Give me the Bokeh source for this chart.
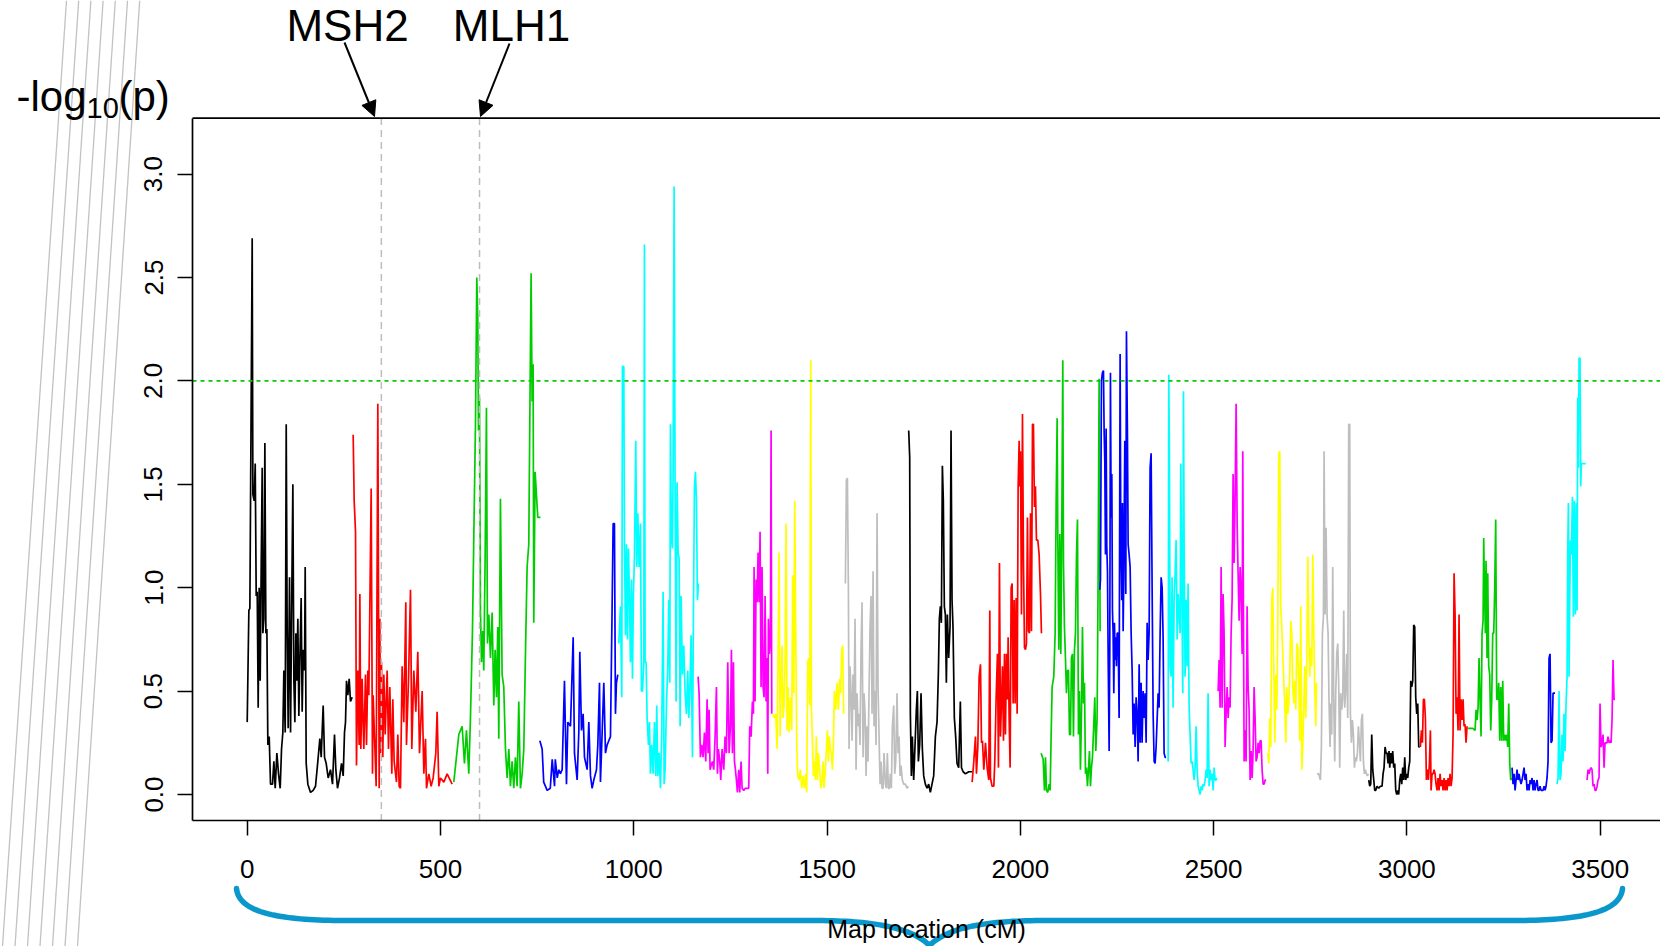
import numpy as np
from bokeh.plotting import figure
from bokeh.models import Range1d, FixedTicker, PrintfTickFormatter, Label, Arrow, NormalHead
from bokeh.embed import file_html
from bokeh.resources import INLINE

# ---------------- data: (map position cM, -log10 p) per chromosome ----------------
chr1 = [(0, 0.35), (4.3, 0.89), (6.9, 0.90), (12.9, 2.69), (14.7, 1.45), (18.1, 1.42), (20.7, 1.60), (23.3, 0.96),
        (25.9, 0.98), (28.4, 0.42), (31.0, 1.00), (33.6, 0.55), (36.2, 1.10), (38.8, 1.58), (40.5, 0.78), (43.1, 0.85),
        (45.7, 1.70), (48.3, 0.78), (50.9, 0.80), (53.4, 0.24), (56.9, 0.28), (60.3, 0.05), (65.5, 0.05), (69.0, 0.16),
        (72.4, 0.03), (76.7, 0.20), (81.0, 0.10), (85.3, 0.03), (88.8, 0.22), (92.2, 0.30), (94.8, 0.60), (98.3, 0.30),
        (100.9, 1.79), (103.4, 0.80), (106.0, 0.32), (109.5, 1.05), (112.1, 0.30), (115.5, 1.00), (118.1, 1.50),
        (120.7, 0.55), (123.3, 0.35), (125.9, 0.78), (128.4, 0.55), (131.0, 0.85), (133.6, 0.38), (136.2, 0.65),
        (139.6, 0.95), (142.2, 0.40), (144.8, 0.70), (148.3, 0.60), (150.0, 1.10), (152.6, 0.15), (156.9, 0.05),
        (163.8, 0.01), (170.7, 0.02), (176.7, 0.04), (182.7, 0.16), (187.9, 0.27), (191.4, 0.18), (196.5, 0.43),
        (200.0, 0.18), (204.3, 0.15), (209.5, 0.08), (215.5, 0.12), (220.7, 0.05), (225.8, 0.29), (229.3, 0.12),
        (233.6, 0.03), (238.8, 0.08), (244.0, 0.15), (248.3, 0.09), (251.7, 0.30), (254.3, 0.35), (256.9, 0.55),
        (260.3, 0.48), (263.8, 0.56), (267.2, 0.45), (271.5, 0.47)]
chr2 = [(274.1, 1.74), (276.7, 1.42), (280.2, 1.27), (282.7, 0.14), (286.2, 0.60), (289.6, 0.24), (291.4, 0.97),
        (293.9, 0.22), (297.4, 0.56), (300.0, 0.33), (301.7, 0.22), (306.0, 0.58), (308.6, 0.24), (312.0, 0.60),
        (314.6, 0.48), (320.7, 1.48), (324.1, 0.10), (325.8, 0.48), (333.6, 0.04), (337.9, 1.89), (341.4, 0.03),
        (343.1, 0.85), (344.8, 0.20), (347.4, 0.64), (350.8, 0.18), (353.4, 0.58), (356.9, 0.29), (362.0, 0.60),
        (365.5, 0.22), (368.9, 0.52), (374.1, 0.10), (376.7, 0.46), (380.1, 0.16), (386.2, 0.06), (389.6, 0.29),
        (393.1, 0.04), (396.5, 0.03), (400.8, 0.62), (405.1, 0.35), (410.3, 0.93), (412.0, 0.24), (417.2, 0.55),
        (422.4, 0.99), (425.8, 0.22), (431.0, 0.60), (436.2, 0.40), (441.3, 0.69), (445.7, 0.20), (452.6, 0.50),
        (456.9, 0.10), (461.2, 0.27), (463.8, 0.03), (469.8, 0.10), (475.8, 0.04), (481.0, 0.08), (487.9, 0.20),
        (491.3, 0.40), (495.7, 0.04), (500.0, 0.08), (508.6, 0.06), (517.2, 0.10), (530.1, 0.05)]
chr3 = [(534.4, 0.06), (547.4, 0.29), (556.0, 0.33), (562.0, 0.15), (567.2, 0.31), (573.2, 0.10), (577.5, 0.37),
        (582.7, 0.79), (586.2, 1.25), (590.5, 1.79), (593.9, 2.50), (596.5, 2.30), (598.2, 1.76), (600.8, 1.92),
        (603.4, 0.89), (606.0, 0.64), (609.4, 0.79), (612.0, 0.60), (615.5, 1.15), (618.9, 1.87), (621.5, 0.73),
        (625.0, 0.87), (629.3, 0.66), (633.6, 0.88), (637.9, 0.43), (641.3, 0.70), (644.8, 0.47), (648.2, 0.81),
        (650.8, 0.27), (655.1, 1.43), (659.4, 0.58), (663.7, 0.52), (668.1, 0.22), (672.4, 0.08), (676.7, 0.22),
        (681.0, 0.04), (685.3, 0.16), (689.6, 0.03), (693.9, 0.18), (698.2, 0.04), (702.5, 0.45), (706.8, 0.03),
        (711.2, 0.10), (715.5, 0.22), (719.8, 0.68), (724.1, 1.10), (728.4, 1.21), (731.0, 1.80), (734.4, 2.52),
        (737.0, 1.90), (739.6, 2.08), (741.3, 0.83), (744.8, 1.56), (748.2, 1.45), (751.7, 1.34), (758.6, 1.34)]
chr4 = [(757, 0.26), (763, 0.22), (767, 0.06), (776, 0.02), (784, 0.03), (789, 0.17), (795, 0.04), (797, 0.17),
        (802, 0.08), (806, 0.12), (810, 0.10), (814.7, 0.12), (820.7, 0.55), (825.9, 0.05), (829.4, 0.35),
        (836.3, 0.33), (843.2, 0.76), (846.6, 0.20), (853.5, 0.07), (857.8, 0.30), (860.4, 0.69), (864.7, 0.31),
        (869.0, 0.39), (872.5, 0.18), (879.4, 0.12), (883.7, 0.35), (888.0, 0.09), (892.3, 0.03), (896.6, 0.07),
        (903.5, 0.12), (907.0, 0.24), (911.3, 0.54), (913.8, 0.06), (918.2, 0.30), (922.5, 0.54), (926.8, 0.20),
        (931.1, 0.24), (935.4, 0.26), (939.7, 0.28), (944.0, 0.91), (946.6, 1.31), (950.0, 1.31), (952.6, 0.39),
        (955.2, 0.54), (958.7, 0.58)]
chr5 = [(961.3, 0.73), (965.6, 0.91), (969.0, 0.47), (970.7, 2.07), (974.2, 2.07), (975.9, 1.23), (978.5, 0.77),
        (981.1, 1.21), (983.7, 0.75), (986.2, 1.19), (988.8, 0.96), (991.4, 0.64), (994.0, 1.04), (996.6, 0.56),
        (999.2, 0.98), (1001.8, 1.15), (1005.2, 1.71), (1007.8, 1.10), (1010.4, 1.36), (1013.8, 1.10), (1017.3, 1.31),
        (1019.9, 0.50), (1022.5, 0.50), (1025.9, 0.64), (1027.6, 2.66), (1029.3, 0.64), (1031.9, 0.64), (1034.5, 0.37),
        (1038.0, 0.24), (1040.6, 0.35), (1043.1, 0.10), (1046.6, 0.24), (1050.0, 0.10), (1053.5, 0.35), (1057.0, 0.09),
        (1059.5, 0.43), (1062.1, 0.09), (1065.6, 0.20), (1069.0, 0.03), (1072.4, 0.31), (1075.9, 0.98), (1078.5, 0.05),
        (1081.1, 0.12), (1084.5, 0.43), (1088.0, 0.62), (1090.6, 0.94), (1093.1, 0.54), (1094.9, 1.79), (1097.4, 1.23),
        (1100.0, 1.19), (1101.8, 1.56), (1104.3, 2.94), (1106.9, 1.50), (1109.5, 0.45), (1112.1, 1.51), (1114.7, 1.17),
        (1117.3, 1.14), (1119.9, 0.33), (1122.4, 0.96), (1125.9, 0.58), (1129.3, 0.72), (1132.8, 0.49), (1136.2, 0.39),
        (1139.7, 0.60), (1142.3, 0.37), (1144.9, 0.49), (1148.3, 0.77), (1151.8, 0.18), (1154.3, 0.87), (1156.9, 1.48),
        (1159.5, 1.56), (1162.1, 1.42), (1164.7, 0.94), (1167.3, 1.02)]
chr6 = [(1166.4, 0.57), (1169.0, 0.49), (1172.4, 0.18), (1175.9, 0.24), (1179.3, 0.18), (1182.8, 0.30), (1186.2, 0.16),
        (1189.7, 0.46), (1192.3, 0.20), (1194.9, 0.41), (1197.4, 0.12), (1200.0, 0.14), (1203.5, 0.16), (1206.9, 0.12),
        (1210.4, 0.28), (1213.8, 0.52), (1216.4, 0.10), (1219.0, 0.22), (1222.4, 0.16), (1225.0, 0.07), (1228.5, 0.22),
        (1232.8, 0.12), (1236.2, 0.28), (1239.7, 0.20), (1243.1, 0.64), (1246.6, 0.20), (1250.0, 0.33), (1252.6, 0.70),
        (1255.2, 0.20), (1257.8, 0.64), (1260.4, 0.16), (1263.0, 0.12), (1265.5, 0.07), (1268.1, 0.01), (1271.6, 0.12),
        (1274.2, 0.01), (1277.6, 0.16), (1280.2, 0.03), (1284.5, 0.02), (1288.8, 0.03), (1293.1, 0.03), (1297.4, 0.03),
        (1300.0, 0.33), (1303.5, 0.28), (1306.9, 0.45), (1309.5, 0.39), (1311.2, 1.10), (1313.8, 0.45), (1316.4, 1.04),
        (1319.0, 0.93), (1321.6, 1.17), (1324.2, 0.93), (1326.7, 1.27), (1329.3, 0.52), (1331.9, 1.10), (1334.5, 0.52),
        (1337.1, 0.47), (1339.7, 0.96), (1342.3, 0.45), (1344.8, 0.66), (1346.6, 0.10), (1348.3, 0.85), (1350.9, 0.68),
        (1353.5, 0.75), (1355.2, 1.76), (1356.9, 0.39)]
chr7 = [(1360.4, 0.39), (1363.8, 0.37), (1367.3, 0.39), (1370.7, 0.22), (1373.3, 0.68), (1375.9, 1.17), (1378.5, 0.28),
        (1381.0, 0.50), (1383.6, 0.72), (1386.2, 0.37), (1388.8, 0.43), (1391.4, 0.64), (1394.0, 1.31), (1396.6, 0.31),
        (1399.1, 0.52), (1401.7, 0.30), (1405.2, 0.47), (1408.6, 0.31), (1411.2, 1.06), (1413.8, 0.49), (1416.4, 1.42),
        (1419.0, 0.77), (1421.6, 0.24), (1424.1, 0.09), (1427.6, 0.07), (1431.0, 0.12), (1434.5, 0.03), (1438.0, 0.09),
        (1441.4, 0.03), (1444.8, 0.10), (1447.4, 0.01), (1450.0, 0.64), (1452.6, 0.66), (1455.2, 0.43), (1457.8, 2.10),
        (1459.5, 0.43), (1462.1, 0.26), (1464.7, 0.09), (1467.2, 0.16), (1469.8, 0.07), (1472.4, 0.28), (1475.0, 0.07),
        (1477.6, 0.20), (1481.0, 0.12), (1483.6, 0.03), (1487.1, 0.07), (1489.7, 0.16), (1492.2, 0.03), (1495.7, 0.12),
        (1498.3, 0.22), (1500.9, 0.31), (1503.4, 0.16), (1506.0, 0.28), (1508.6, 0.22), (1511.2, 0.20), (1513.8, 0.12),
        (1516.4, 0.24), (1519.0, 0.50), (1522.4, 0.41), (1525.9, 0.54), (1529.3, 0.41), (1532.8, 0.56), (1535.3, 0.49),
        (1537.9, 0.70), (1540.5, 0.72), (1543.1, 0.39)]
chr8 = [(1547.4, 1.02), (1550.0, 1.52), (1552.6, 1.53), (1555.2, 1.00), (1556.9, 0.22), (1559.5, 0.62), (1562.1, 0.49),
        (1564.7, 0.26), (1567.2, 0.58), (1569.8, 0.41), (1572.4, 0.85), (1575.0, 0.12), (1577.6, 0.49), (1580.2, 0.33),
        (1582.8, 0.39), (1585.3, 0.24), (1587.9, 0.70), (1590.5, 0.93), (1593.1, 0.18), (1595.7, 0.49), (1598.3, 0.39),
        (1600.9, 0.09), (1603.4, 0.33), (1606.0, 0.16), (1608.6, 0.49), (1611.2, 0.81), (1613.8, 0.96), (1616.4, 0.39),
        (1619.0, 1.08), (1621.5, 0.33), (1624.1, 0.50), (1626.7, 0.24), (1629.3, 1.36), (1631.9, 0.52), (1634.5, 0.28),
        (1637.1, 0.05), (1639.6, 0.16), (1642.2, 0.03), (1644.8, 0.03), (1647.4, 0.20), (1650.9, 0.05), (1653.4, 0.03),
        (1656.0, 0.20), (1658.6, 0.03), (1661.2, 0.03), (1663.8, 0.10), (1666.4, 0.03), (1669.0, 0.33), (1672.4, 0.43),
        (1675.0, 0.10), (1677.6, 0.16), (1681.0, 0.49), (1683.6, 0.20), (1686.2, 0.28), (1688.8, 0.09), (1691.4, 0.14),
        (1694.8, 0.07), (1698.3, 0.05), (1702.6, 0.05), (1706.9, 0.03), (1710.3, 0.04)]
chr9 = [(1711.2, 1.76), (1713.8, 1.63), (1715.5, 0.39), (1718.1, 0.09), (1720.7, 0.28), (1724.1, 0.07), (1727.6, 0.24),
        (1731.0, 0.41), (1733.6, 0.50), (1736.2, 0.16), (1739.6, 0.24), (1743.1, 0.49), (1746.5, 0.22), (1750.0, 0.09),
        (1754.3, 0.05), (1758.6, 0.03), (1762.9, 0.05), (1767.2, 0.01), (1771.5, 0.05), (1775.8, 0.09), (1780.2, 0.28),
        (1784.5, 0.35), (1787.9, 0.58), (1790.5, 0.85), (1793.1, 0.91), (1795.7, 0.83), (1798.3, 1.59), (1800.8, 1.42),
        (1803.4, 0.91), (1806.0, 0.87), (1808.6, 0.54), (1811.2, 0.87), (1814.6, 0.66), (1818.1, 0.81), (1820.7, 1.76),
        (1823.3, 0.94), (1825.8, 0.81), (1829.3, 0.37), (1832.7, 0.28), (1836.2, 0.15), (1840.5, 0.13), (1844.8, 0.45),
        (1847.7, 0.13), (1852.0, 0.11), (1858.0, 0.10), (1866.7, 0.11), (1875.3, 0.11)]
chr10 = [(1875.3, 0.06), (1879.6, 0.16), (1883.9, 0.28), (1886.5, 0.10), (1890.0, 0.23), (1893.4, 0.57), (1896.9, 0.63),
         (1899.5, 0.25), (1902.0, 0.26), (1905.5, 0.12), (1909.8, 0.25), (1914.1, 0.13), (1918.4, 0.07), (1921.0, 0.89),
         (1922.7, 0.08), (1927.0, 0.04), (1931.4, 0.04), (1933.9, 0.16), (1937.4, 0.47), (1940.8, 0.68), (1943.4, 0.13),
         (1946.0, 1.12), (1948.6, 0.28), (1951.2, 0.44), (1953.8, 0.62), (1956.4, 0.26), (1959.0, 0.68), (1961.5, 0.29),
         (1964.1, 0.68), (1966.7, 0.46), (1968.4, 0.76), (1971.0, 0.37), (1973.6, 0.13), (1976.2, 1.00), (1978.8, 1.02),
         (1981.4, 0.44), (1984.0, 0.94), (1986.5, 0.44), (1989.1, 0.95), (1991.7, 0.39), (1994.3, 1.49), (1996.9, 1.71),
         (1998.6, 1.49), (2000.3, 1.66), (2002.9, 0.87), (2005.5, 1.84), (2008.1, 1.13), (2010.7, 0.71), (2013.3, 0.70),
         (2015.8, 0.73), (2018.4, 1.34), (2021.0, 0.79), (2023.6, 0.78), (2026.2, 1.36), (2028.8, 0.79), (2031.4, 1.79),
         (2033.9, 1.79), (2036.5, 1.39), (2039.1, 1.49), (2041.7, 1.23), (2045.2, 1.23), (2048.6, 1.16), (2052.1, 0.97),
         (2054.6, 0.78)]
chr11 = [(2053.8, 0.20), (2059.0, 0.17), (2062.4, 0.02), (2065.0, 0.18), (2067.6, 0.02), (2071.0, 0.01), (2074.5, 0.05),
         (2077.1, 0.02), (2079.7, 0.29), (2082.2, 0.52), (2086.5, 0.57), (2090.0, 0.78), (2092.6, 1.41), (2095.2, 1.82),
         (2096.9, 1.24), (2099.5, 0.70), (2102.1, 1.26), (2104.7, 0.68), (2107.2, 1.29), (2109.8, 2.10), (2111.6, 1.12),
         (2114.1, 0.81), (2116.7, 0.66), (2119.3, 0.49), (2121.9, 0.60), (2124.5, 0.60), (2127.1, 0.29), (2129.7, 0.29),
         (2132.2, 0.66), (2134.8, 0.68), (2137.4, 0.28), (2140.0, 0.70), (2142.6, 0.78), (2145.2, 1.15), (2147.8, 1.33),
         (2150.3, 0.29), (2152.9, 0.50), (2155.5, 0.12), (2158.1, 0.39), (2160.7, 0.81), (2163.3, 0.44), (2165.9, 0.54),
         (2168.5, 0.10), (2171.0, 0.13), (2173.6, 0.04), (2176.2, 0.12), (2178.8, 0.21), (2181.4, 0.04), (2184.0, 0.13),
         (2186.6, 0.18), (2190.0, 0.34), (2192.6, 0.47), (2195.2, 0.21), (2198.6, 0.37), (2201.2, 1.05), (2203.8, 2.01),
         (2206.4, 0.79)]
chr12 = [(2205.5, 0.99), (2207.3, 1.04), (2209.8, 2.00), (2212.4, 2.04), (2215.0, 2.05), (2216.7, 1.76), (2218.5, 1.61),
         (2220.2, 1.16), (2221.9, 1.77), (2223.6, 1.20), (2225.4, 1.08), (2227.1, 0.68), (2229.7, 0.21), (2231.4, 0.71),
         (2233.1, 2.04), (2234.8, 1.34), (2236.6, 1.55), (2238.3, 0.89), (2240.0, 0.78), (2241.8, 0.49), (2243.5, 0.83),
         (2245.2, 0.65), (2246.9, 0.76), (2248.6, 0.62), (2250.4, 0.78), (2253.0, 0.78), (2255.5, 0.37), (2258.1, 2.13),
         (2259.9, 1.23), (2262.4, 0.94), (2264.2, 1.41), (2265.9, 0.79), (2267.6, 1.05), (2270.2, 1.71), (2272.8, 0.97),
         (2274.5, 2.24), (2277.1, 1.73), (2278.8, 1.21), (2281.4, 1.16), (2284.0, 1.10), (2286.6, 0.78), (2289.2, 0.60),
         (2291.8, 0.29), (2294.3, 0.44), (2296.9, 0.23), (2299.5, 0.47), (2302.1, 0.39), (2304.7, 0.16), (2307.3, 0.63),
         (2309.9, 0.25), (2312.4, 0.54), (2315.0, 0.25), (2317.6, 0.50), (2320.2, 0.37), (2322.8, 0.49), (2325.4, 0.25),
         (2328.0, 0.83), (2330.5, 0.65), (2333.1, 0.78), (2335.7, 1.58), (2338.3, 1.65), (2340.9, 1.00), (2343.5, 0.39),
         (2346.1, 0.16), (2348.6, 0.15), (2351.2, 0.23), (2353.8, 0.36), (2356.4, 0.49), (2359.0, 0.42), (2361.6, 0.78),
         (2364.2, 1.05), (2366.8, 1.00), (2369.3, 0.76), (2371.9, 0.20), (2374.5, 0.18), (2377.1, 0.18)]
chr13 = [(2382.3, 0.16), (2384.0, 2.03), (2385.7, 1.61), (2387.5, 0.62), (2390.0, 0.57), (2392.6, 1.05), (2395.2, 0.42),
         (2397.8, 0.94), (2400.4, 1.07), (2403.0, 1.23), (2405.6, 0.75), (2408.1, 0.97), (2410.7, 0.87), (2413.3, 0.78),
         (2415.0, 1.60), (2417.6, 1.04), (2420.2, 0.49), (2422.0, 1.95), (2423.7, 1.20), (2426.2, 0.57), (2428.8, 0.94),
         (2431.4, 0.62), (2434.0, 1.02), (2436.6, 0.42), (2439.2, 0.29), (2441.8, 0.15), (2444.4, 0.16), (2446.9, 0.12),
         (2449.5, 0.07), (2452.1, 0.13), (2454.7, 0.33), (2457.3, 0.12), (2459.9, 0.04), (2462.5, 0.02), (2465.0, 0.00),
         (2467.6, 0.04), (2470.2, 0.02), (2472.8, 0.05), (2475.4, 0.04), (2478.0, 0.07), (2480.6, 0.12), (2483.2, 0.08),
         (2485.7, 0.49), (2488.3, 0.04), (2490.9, 0.12), (2493.5, 0.07), (2496.1, 0.10), (2498.7, 0.02), (2501.3, 0.13),
         (2503.8, 0.07), (2506.4, 0.07), (2508.2, 0.08)]
chr14 = [(2511.6, 0.50), (2514.2, 0.65), (2516.8, 0.42), (2519.4, 1.10), (2521.9, 0.42), (2524.5, 0.97), (2527.1, 0.78),
         (2529.7, 0.23), (2532.3, 0.39), (2534.9, 0.52), (2537.5, 0.37), (2540.1, 0.47), (2542.6, 0.42), (2545.2, 0.78),
         (2547.8, 0.94), (2550.4, 1.55), (2553.0, 1.12), (2555.6, 1.44), (2558.2, 1.89), (2560.8, 1.31), (2563.3, 1.07),
         (2565.9, 0.84), (2568.5, 1.10), (2571.1, 0.97), (2573.7, 0.68), (2575.4, 1.66), (2577.1, 0.91), (2578.9, 0.16),
         (2581.5, 0.31), (2584.0, 0.16), (2586.6, 0.91), (2589.2, 0.52), (2591.8, 0.41), (2594.4, 0.07), (2597.0, 0.21),
         (2599.6, 0.08), (2602.1, 0.21), (2604.7, 0.52), (2607.3, 0.37), (2609.9, 0.16), (2612.5, 0.18), (2615.1, 0.25),
         (2617.7, 0.20), (2620.3, 0.26), (2622.8, 0.26), (2625.4, 0.12), (2628.0, 0.05), (2630.6, 0.05), (2633.2, 0.07),
         (2635.8, 0.07)]
chr15 = [(2640.1, 0.20), (2642.7, 0.15), (2645.3, 0.37), (2647.8, 0.23), (2650.4, 0.94), (2653.0, 1.00), (2655.6, 0.62),
         (2658.2, 0.25), (2660.8, 0.58), (2663.4, 0.41), (2666.0, 0.81), (2668.5, 1.65), (2671.1, 1.66), (2673.7, 0.91),
         (2676.3, 0.81), (2678.9, 0.68), (2681.5, 0.54), (2684.1, 0.44), (2686.6, 0.25), (2689.2, 0.52), (2691.8, 0.39),
         (2694.4, 0.44), (2697.0, 0.58), (2699.6, 0.84), (2702.2, 0.78), (2704.8, 0.52), (2707.3, 0.44), (2709.9, 0.55),
         (2712.5, 0.41), (2715.1, 0.73), (2717.7, 0.71), (2720.3, 0.54), (2722.9, 0.26), (2725.4, 0.91), (2728.0, 0.12),
         (2730.6, 0.23), (2733.2, 0.42), (2735.8, 0.62), (2738.4, 0.37), (2741.0, 0.63), (2743.6, 1.15), (2746.1, 0.78),
         (2748.7, 0.57), (2751.3, 0.71), (2753.9, 0.62), (2756.5, 1.16), (2759.1, 0.78), (2761.6, 0.52), (2764.2, 0.33),
         (2766.0, 0.54)]
chr16 = [(2767.6, 0.10), (2771.9, 0.10), (2776.2, 0.07), (2778.8, 0.23), (2781.4, 0.78), (2784.0, 0.86), (2785.7, 1.66),
         (2788.3, 0.87), (2790.9, 1.29), (2793.5, 0.86), (2796.1, 0.78), (2798.6, 0.44), (2801.2, 0.23), (2803.0, 0.44),
         (2805.5, 0.29), (2808.1, 1.10), (2810.7, 0.46), (2813.3, 0.16), (2815.9, 0.49), (2818.5, 0.68), (2821.1, 0.73),
         (2823.7, 0.52), (2826.2, 0.13), (2828.8, 0.49), (2831.4, 0.41), (2834.0, 0.46), (2836.6, 0.89), (2839.2, 0.42),
         (2841.8, 0.52), (2844.3, 0.68), (2846.9, 0.37), (2849.5, 1.79), (2852.1, 1.79), (2853.8, 0.39), (2856.4, 0.25),
         (2859.0, 0.36), (2861.6, 0.29), (2864.2, 0.13), (2866.8, 0.18), (2869.3, 0.16), (2871.9, 0.20), (2874.5, 0.33),
         (2877.1, 0.25), (2879.7, 0.16), (2882.3, 0.36), (2884.9, 0.39), (2887.5, 0.16), (2890.0, 0.10), (2892.6, 0.12),
         (2895.2, 0.10), (2897.8, 0.09), (2900.4, 0.10)]
chr17 = [(2901.3, 0.07), (2903.8, 0.04), (2906.4, 0.05), (2909.0, 0.29), (2911.6, 0.12), (2914.2, 0.07), (2916.8, 0.02),
         (2919.4, 0.02), (2922.8, 0.04), (2927.1, 0.03), (2931.4, 0.04), (2935.7, 0.04), (2938.3, 0.10), (2940.9, 0.13),
         (2943.5, 0.23), (2946.1, 0.20), (2948.7, 0.20), (2951.3, 0.15), (2953.8, 0.21), (2955.6, 0.13), (2958.2, 0.20),
         (2960.7, 0.15), (2963.3, 0.21), (2965.9, 0.13), (2968.5, 0.15), (2971.1, 0.02), (2973.7, 0.00), (2976.3, 0.02),
         (2978.8, 0.00), (2981.4, 0.07), (2984.0, 0.10), (2986.6, 0.05), (2989.2, 0.13), (2991.8, 0.07), (2994.4, 0.18),
         (2997.0, 0.07), (2999.5, 0.10), (3002.1, 0.08), (3004.7, 0.13), (3007.3, 0.16), (3009.9, 0.55), (3012.5, 0.52),
         (3015.1, 0.55), (3017.6, 0.82), (3020.2, 0.81), (3022.8, 0.47), (3025.4, 0.39), (3028.0, 0.44), (3030.6, 0.23),
         (3033.2, 0.23)]
chr18 = [(3034.9, 0.23), (3037.5, 0.31), (3040.1, 0.25), (3042.7, 0.46), (3045.2, 0.46), (3047.8, 0.37), (3050.4, 0.07),
         (3053.0, 0.12), (3055.6, 0.07), (3058.2, 0.15), (3060.8, 0.31), (3062.5, 0.02), (3065.1, 0.10), (3067.7, 0.10),
         (3070.2, 0.12), (3072.8, 0.10), (3075.4, 0.05), (3078.0, 0.02), (3080.6, 0.08), (3083.2, 0.02), (3085.8, 0.10),
         (3088.3, 0.04), (3090.9, 0.07), (3093.5, 0.02), (3096.1, 0.08), (3098.7, 0.02), (3101.3, 0.07), (3103.9, 0.02),
         (3106.5, 0.08), (3109.0, 0.04), (3111.6, 0.10), (3114.2, 0.04), (3116.8, 0.08), (3119.4, 0.29), (3122.0, 1.07),
         (3124.6, 0.87), (3127.2, 0.39), (3129.7, 0.47), (3132.3, 0.31), (3134.9, 0.87), (3137.5, 0.31), (3140.1, 0.46),
         (3142.7, 0.36), (3145.3, 0.46), (3147.8, 0.33), (3150.4, 0.34), (3153.0, 0.25), (3155.6, 0.33)]
chr19 = [(3158.2, 0.32), (3164.2, 0.32), (3170.3, 0.32), (3176.3, 0.31), (3178.9, 0.41), (3181.5, 0.36), (3184.1, 0.42),
         (3186.6, 0.66), (3189.2, 0.46), (3191.8, 0.28), (3194.4, 0.78), (3197.0, 0.84), (3198.7, 1.24), (3200.4, 1.02),
         (3203.0, 0.78), (3204.7, 1.13), (3207.3, 0.66), (3209.1, 1.07), (3211.6, 0.62), (3214.2, 0.58), (3216.8, 0.31),
         (3219.4, 0.46), (3222.0, 0.78), (3224.6, 0.78), (3227.2, 1.00), (3229.7, 1.33), (3232.3, 0.46), (3234.9, 0.46),
         (3237.5, 0.54), (3240.1, 0.26), (3242.7, 0.52), (3245.3, 0.26), (3247.9, 0.55), (3250.4, 0.26), (3253.0, 0.29),
         (3255.6, 0.26), (3258.2, 0.29), (3260.8, 0.23), (3263.4, 0.44), (3266.0, 0.15), (3268.5, 0.07), (3271.1, 0.08)]
chr20 = [(3272.0, 0.13), (3274.6, 0.05), (3277.2, 0.10), (3279.8, 0.02), (3282.4, 0.07), (3284.9, 0.12), (3287.5, 0.07),
         (3290.1, 0.10), (3292.7, 0.07), (3295.3, 0.05), (3297.9, 0.07), (3300.5, 0.10), (3303.1, 0.13), (3305.6, 0.07),
         (3308.2, 0.10), (3310.8, 0.02), (3313.4, 0.05), (3316.0, 0.02), (3318.6, 0.07), (3321.1, 0.05), (3323.7, 0.08),
         (3326.3, 0.02), (3328.9, 0.07), (3331.5, 0.02), (3334.1, 0.05), (3336.7, 0.07), (3339.3, 0.02), (3341.8, 0.02),
         (3344.4, 0.04), (3347.0, 0.02), (3349.6, 0.02), (3352.2, 0.02), (3354.8, 0.04), (3357.4, 0.02), (3359.9, 0.04),
         (3362.5, 0.08), (3365.1, 0.16), (3367.7, 0.66), (3370.3, 0.68), (3372.9, 0.25), (3375.5, 0.26), (3378.0, 0.49),
         (3380.6, 0.49), (3383.2, 0.49)]
chr21 = [(3388.4, 0.05), (3391.0, 0.08), (3393.6, 0.50), (3396.1, 0.07), (3398.7, 0.10), (3401.3, 0.29), (3403.9, 0.16),
         (3406.5, 0.39), (3409.1, 0.21), (3411.7, 0.44), (3414.3, 0.57), (3416.0, 1.16), (3417.7, 1.41), (3419.4, 0.57),
         (3421.2, 0.94), (3422.9, 1.23), (3425.5, 1.16), (3428.1, 1.44), (3430.6, 0.86), (3433.2, 1.42), (3435.8, 0.87),
         (3438.4, 1.41), (3440.1, 0.89), (3441.9, 1.92), (3443.6, 1.58), (3445.3, 2.11), (3447.9, 2.11), (3449.6, 1.49),
         (3451.3, 1.60), (3462.6, 1.60)]
chr22 = [(3466.0, 0.07), (3468.6, 0.12), (3471.2, 0.10), (3473.7, 0.12), (3476.3, 0.13), (3478.9, 0.12), (3481.5, 0.04),
         (3484.1, 0.05), (3486.7, 0.02), (3489.3, 0.02), (3491.9, 0.04), (3494.4, 0.07), (3497.0, 0.08), (3499.6, 0.44),
         (3502.2, 0.23), (3504.8, 0.25), (3507.4, 0.29), (3510.0, 0.13), (3512.5, 0.25), (3515.1, 0.25), (3517.7, 0.25),
         (3520.3, 0.28), (3522.9, 0.25), (3525.5, 0.26), (3528.1, 0.25), (3530.7, 0.36), (3533.2, 0.65), (3535.8, 0.46),
         (3538.4, 0.46)]

x_ticks = [0, 500, 1000, 1500, 2000, 2500, 3000, 3500]
y_ticks = [0.0, 0.5, 1.0, 1.5, 2.0, 2.5, 3.0]
threshold = 2.0
gene_names = ["MSH2", "MLH1"]
gene_pos = [347, 601]

# ---------------- geometry ----------------
W, H = 1660, 946
X0, X1 = -638.2, 3656.0
Y0, Y1 = -0.735, 3.8395
BOX_L, BOX_R, BOX_T, BOX_B = -141.5, 3700.0, 3.271, -0.128
FONT = "Liberation Sans"


def dx(px):
    return X0 + np.asarray(px, dtype=float) * (X1 - X0) / W


def dy(py):
    return Y1 - np.asarray(py, dtype=float) * (Y1 - Y0) / H


p = figure(width=W, height=H, x_range=Range1d(X0, X1), y_range=Range1d(Y0, Y1),
           output_backend="svg", toolbar_location=None, min_border=0,
           outline_line_color=None, background_fill_color="white", border_fill_color="white")
p.grid.visible = False

# decorative slanted grey lines at the left edge
n_diag = 7
top_x = [66 + 12.2 * i for i in range(n_diag)]
bot_x = [2 + 12.5 * i for i in range(n_diag)]
p.segment(x0=list(dx(top_x)), y0=[float(dy(0))] * n_diag, x1=list(dx(bot_x)), y1=[float(dy(H))] * n_diag,
          line_color="#c2c2c2", line_width=1.3)

# chromosome lines
palette = ["black", "red", "#00CD00", "blue", "cyan", "magenta", "yellow", "#BEBEBE"]
chroms = [chr1, chr2, chr3, chr4, chr5, chr6, chr7, chr8, chr9, chr10, chr11,
          chr12, chr13, chr14, chr15, chr16, chr17, chr18, chr19, chr20, chr21, chr22]
for i, c in enumerate(chroms):
    p.line([a for a, b in c], [b for a, b in c], line_color=palette[i % 8], line_width=1.7)

# threshold + gene markers
p.segment(x0=[BOX_L], y0=[threshold], x1=[BOX_R], y1=[threshold],
          line_color="#00CD00", line_width=1.6, line_dash="4 4")
p.segment(x0=gene_pos, y0=[BOX_B] * 2, x1=gene_pos, y1=[BOX_T] * 2,
          line_color="#bdbdbd", line_width=1.5, line_dash="7 5")

# top edge of the box
p.segment(x0=[BOX_L], y0=[BOX_T], x1=[BOX_R], y1=[BOX_T], line_color="black", line_width=1.7)

# axes
yax = p.yaxis[0]
yax.fixed_location = BOX_L
yax.bounds = (BOX_B, BOX_T)
yax.ticker = FixedTicker(ticks=y_ticks)
yax.formatter = PrintfTickFormatter(format="%.1f")
yax.major_label_orientation = "vertical"
yax.major_label_standoff = 15
yax.minor_tick_line_color = None
yax.major_tick_in = 0
yax.major_tick_out = 15

xax = p.xaxis[0]
xax.fixed_location = BOX_B
xax.bounds = (BOX_L, BOX_R)
xax.ticker = FixedTicker(ticks=x_ticks)
xax.major_label_standoff = 24
xax.minor_tick_line_color = None
xax.major_tick_in = 0
xax.major_tick_out = 15
xax.axis_label = "Map location (cM)"
xax.axis_label_standoff = 34
xax.axis_label_text_font = FONT
xax.axis_label_text_font_size = "25px"
xax.axis_label_text_font_style = "normal"
xax.axis_label_text_color = "black"

for ax in (xax, yax):
    ax.axis_line_width = 1.7
    ax.axis_line_color = "black"
    ax.major_tick_line_width = 1.5
    ax.major_tick_line_color = "black"
    ax.major_label_text_font = FONT
    ax.major_label_text_font_size = "26px"
    ax.major_label_text_color = "black"

# blue brace under the x axis (drawn in pixel geometry, converted to data units)
def bezier(p0, p1, p2, p3, n=40):
    t = np.linspace(0, 1, n)[:, None]
    p0, p1, p2, p3 = map(np.array, (p0, p1, p2, p3))
    return (1 - t) ** 3 * p0 + 3 * (1 - t) ** 2 * t * p1 + 3 * (1 - t) * t ** 2 * p2 + t ** 3 * p3

cx = 929.0
half = np.vstack([bezier((236, 888), (238, 910), (272, 920), (344, 920)),
                  bezier((813, 920), (880, 920), (913, 929), (cx, 945))])
mirror = half[::-1].copy()
mirror[:, 0] = 2 * cx - mirror[:, 0]
brace = np.vstack([half, mirror])
p.line(list(dx(brace[:, 0])), list(dy(brace[:, 1])), line_color="#0A98CC", line_width=5.5,
       line_cap="round", line_join="round")

# y axis title -log10(p)
p.add_layout(Label(x=float(dx(16)), y=float(dy(96)), text="-log", text_font=FONT, text_font_size="42px",
                   text_align="left", text_baseline="alphabetic", text_color="black"))
p.add_layout(Label(x=float(dx(86)), y=float(dy(107)), text="10", text_font=FONT, text_font_size="29px",
                   text_align="left", text_baseline="alphabetic", text_color="black"))
p.add_layout(Label(x=float(dx(118)), y=float(dy(96)), text="(p)", text_font=FONT, text_font_size="42px",
                   text_align="left", text_baseline="alphabetic", text_color="black"))

# gene labels and arrows
label_px = [347, 511]
arrow_start = [(344, 42), (509, 43)]
arrow_end = [(374, 116), (480, 116)]
for name, lx, (sx, sy), (ex, ey) in zip(gene_names, label_px, arrow_start, arrow_end):
    p.add_layout(Label(x=float(dx(lx)), y=float(dy(25)), text=name, text_font=FONT, text_font_size="44px",
                       text_align="center", text_baseline="alphabetic", text_color="black"))
    p.add_layout(Arrow(end=NormalHead(size=15, fill_color="black", line_color="black", line_width=1),
                       x_start=float(dx(sx)), y_start=float(dy(sy)), x_end=float(dx(ex)), y_end=float(dy(ey)),
                       line_color="black", line_width=2))

open("out.html", "w").write(file_html(p, INLINE))
